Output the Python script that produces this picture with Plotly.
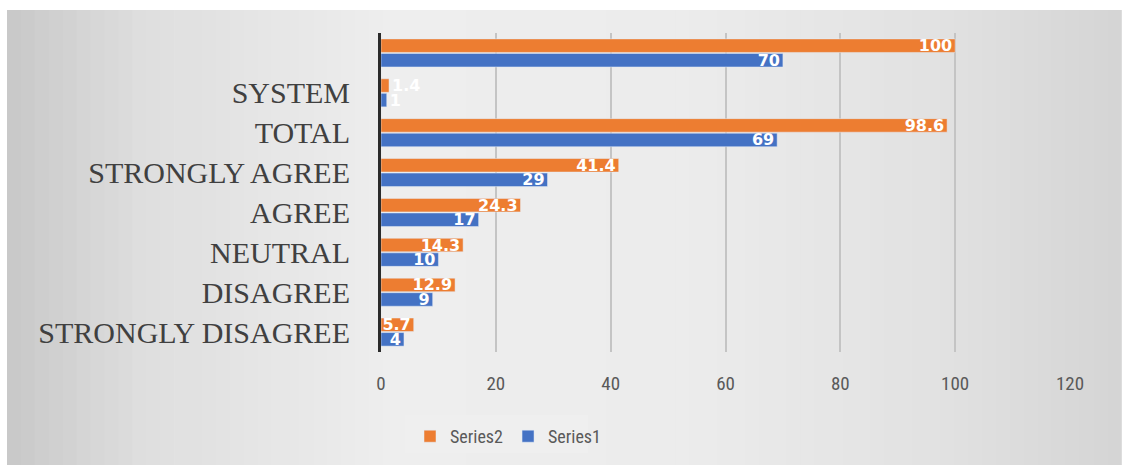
import plotly.graph_objects as go

categories = ["STRONGLY DISAGREE", "DISAGREE", "NEUTRAL", "AGREE", "STRONGLY AGREE", "TOTAL", "SYSTEM", " "]
series1 = [4, 9, 10, 17, 29, 69, 1, 70]
series2 = [5.7, 12.9, 14.3, 24.3, 41.4, 98.6, 1.4, 100]
x_ticks = [0, 20, 40, 60, 80, 100, 120]

W, H = 1123, 471
L, R, T, B = 381, 1070, 33, 352

def px_x(p):
    return (p - L) / (R - L)

def px_y(p):
    return (B - p) / (B - T)

# gradient background strips
stops = [(0.0, 200), (0.12, 222), (0.35, 238), (0.6, 236), (0.85, 225), (1.0, 212)]
def grey(t):
    for (t0, c0), (t1, c1) in zip(stops[:-1], stops[1:]):
        if t0 <= t <= t1:
            return c0 + (c1 - c0) * (t - t0) / (t1 - t0)
    return stops[-1][1]

shapes = []
x0p, x1p = 7, 1121
n = 80
for i in range(n):
    a = x0p + (x1p - x0p) * i / n
    b = x0p + (x1p - x0p) * (i + 1) / n + 0.8
    g = int(round(grey((i + 0.5) / n)))
    shapes.append(dict(type="rect", xref="paper", yref="paper", layer="below",
                       x0=px_x(a), x1=px_x(b), y0=px_y(465), y1=px_y(10),
                       fillcolor=f"rgb({g},{g},{g})", line=dict(width=0)))
# legend box
shapes.append(dict(type="rect", xref="paper", yref="paper", layer="below",
                   x0=px_x(405), x1=px_x(588), y0=px_y(453), y1=px_y(415),
                   fillcolor="rgba(240,240,240,0.6)", line=dict(width=0)))

label_font = dict(family="DejaVu Sans, Open Sans", size=16, color="white", weight="bold")

def positions(vals):
    return ["outside" if v < 3 else "inside" for v in vals]

fig = go.Figure()
fig.add_trace(go.Bar(
    y=categories, x=series1, name="Series1", orientation="h",
    marker=dict(color="#4472C4"),
    text=[str(v) for v in series1], textposition=positions(series1),
    insidetextanchor="end", textangle=0, textfont=label_font,
    insidetextfont=label_font, outsidetextfont=label_font,
    cliponaxis=False,
))
fig.add_trace(go.Bar(
    y=categories, x=series2, name="Series2", orientation="h",
    marker=dict(color="#ED7D31"),
    text=[str(v) for v in series2], textposition=positions(series2),
    insidetextanchor="end", textangle=0, textfont=label_font,
    insidetextfont=label_font, outsidetextfont=label_font,
    cliponaxis=False,
))

fig.update_layout(
    width=W, height=H,
    margin=dict(l=L, r=W - R, t=T, b=H - B, pad=0),
    paper_bgcolor="white", plot_bgcolor="rgba(0,0,0,0)",
    barmode="group", bargap=0.27, bargroupgap=0.07,
    shapes=shapes,
    showlegend=True,
    legend=dict(orientation="h", traceorder="reversed",
                x=px_x(410), y=px_y(418), xanchor="left", yanchor="top",
                bgcolor="rgba(0,0,0,0)",
                font=dict(family="Liberation Sans Narrow, Roboto Condensed, Liberation Sans", size=18, color="#595959"),
                itemwidth=30),
    xaxis=dict(range=[0, 120], tickvals=x_ticks, showgrid=True,
               gridcolor="#c4c4c4", gridwidth=1.5,
               zeroline=False, showline=False, ticks="",
               tickfont=dict(family="Liberation Sans Narrow, Roboto Condensed, Liberation Sans", size=19, color="#595959"),
               ticklabelstandoff=18),
    yaxis=dict(categoryorder="array", categoryarray=categories,
               showline=True, linecolor="#2b2b2b", linewidth=3,
               showgrid=False, ticks="",
               tickfont=dict(family="Liberation Serif, Times New Roman", size=30, color="#404040"),
               ticklabelstandoff=22),
    uniformtext=dict(mode="show", minsize=16),
)

fig.write_html("out.html", config={"displayModeBar": False},
               post_script="document.body.style.margin='0px';")
